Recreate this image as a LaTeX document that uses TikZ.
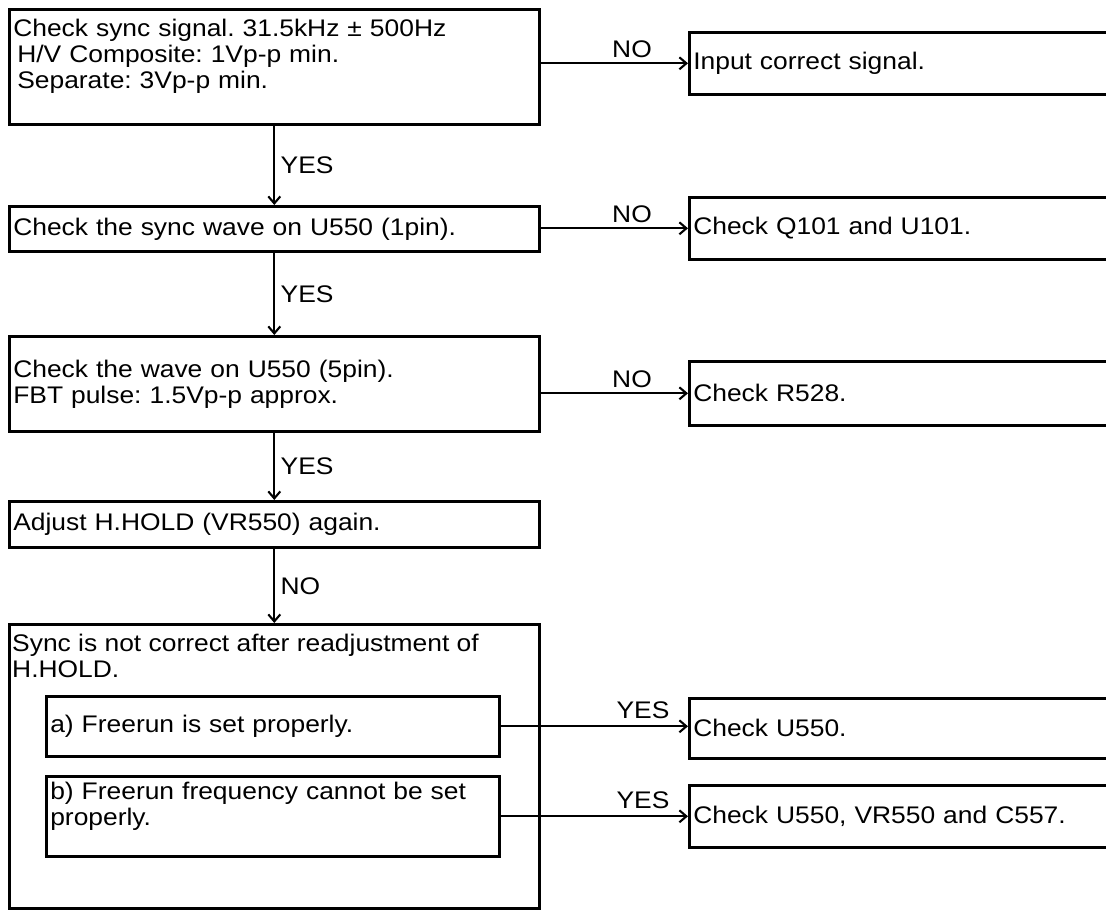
\documentclass[tikz,border=0pt]{standalone}
\usepackage{fontspec}
\setmainfont{Liberation Sans}[FakeStretch=1.1]
\usetikzlibrary{arrows.meta}
\begin{document}
\frenchspacing
\begin{tikzpicture}[x=1pt,y=-1pt,
  every node/.style={font=\fontsize{24}{26}\selectfont},
  box/.style={draw,line width=2.6pt,anchor=north west,inner xsep=4pt,inner ysep=0pt,align=left},
  flow/.style={line width=2.1pt,-{Straight Barb[length=7pt,width=12pt,line width=2.1pt]}}]
\clip (0,0) rectangle (1106,910);
   \node[box,text width=522pt,minimum height=115pt] at (8,8) (sync) {Check sync signal. 31.5kHz ± 500Hz\\\hspace{4pt}H/V Composite: 1Vp-p min.\\\hspace{4pt}Separate: 3Vp-p min.\\ ~};
   \node[box,text width=522pt,minimum height=45pt] at (8,205) (wave1) {Check the sync wave on U550 (1pin).};
   \node[box,text width=522pt,minimum height=95pt] at (8,335) (wave5) {\mbox{}\\[-8pt]Check the wave on U550 (5pin).\\FBT pulse: 1.5Vp-p approx.};
   \node[box,text width=522pt,minimum height=46pt] at (8,500) (hold) {Adjust H.HOLD (VR550) again.};
   \node[box,minimum width=530pt,minimum height=284pt] at (8,623) (notok) {};
   \node[anchor=north west,align=left,inner sep=0pt] at (12,634) (notoktxt) {Sync is not correct after readjustment of\\H.HOLD.};
   \node[box,text width=445pt,minimum height=60pt] at (45,695) (runok) {a) Freerun is set properly.};
   \node[box,text width=445pt,minimum height=80pt] at (45,775) (runbad) {b) Freerun frequency cannot be set\\properly.\\ ~};
   \node[box,text width=440pt,minimum height=62pt] at (688,31) (input) {Input correct signal.};
   \node[box,text width=440pt,minimum height=62pt] at (688,196) (q101) {Check Q101 and U101.};
   \node[box,text width=440pt,minimum height=64pt] at (688,360) (r528) {Check R528.};
   \node[box,text width=440pt,minimum height=60pt] at (688,697) (u550) {Check U550.};
   \node[box,text width=440pt,minimum height=62pt] at (688,784) (c557) {Check U550, VR550 and C557.};
    \draw[flow] (sync.south) -- (wave1.north) node[midway,right=2pt] {YES};
    \draw[flow] (wave1.south) -- (wave5.north) node[midway,right=2pt] {YES};
    \draw[flow] (wave5.south) -- (hold.north) node[midway,right=2pt] {YES};
    \draw[flow] (hold.south) -- (notok.north) node[midway,right=2pt] {NO};
    \draw[flow] (sync.east |- input.west) -- (input.west) node[pos=.62,above=1pt] {NO};
    \draw[flow] (wave1.east |- q101.west) -- (q101.west) node[pos=.62,above=1pt] {NO};
    \draw[flow] (wave5.east |- r528.west) -- (r528.west) node[pos=.62,above=1pt] {NO};
    \draw[flow] (runok.east) -- (runok.east -| u550.west) node[pos=.76,above=3pt] {YES};
    \draw[flow] (runbad.east) -- (runbad.east -| c557.west) node[pos=.76,above=3pt] {YES};
\end{tikzpicture}
\end{document}
